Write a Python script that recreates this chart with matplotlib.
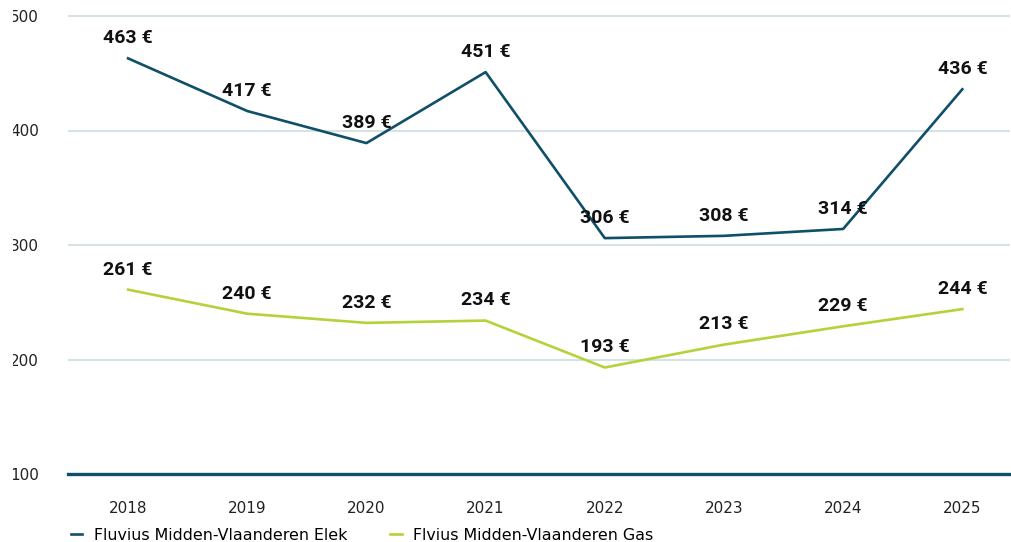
import matplotlib
matplotlib.use("Agg")
import matplotlib.pyplot as plt
from matplotlib.transforms import Bbox

# ── data ───────────────────────────────
years = ["2018", "2019", "2020", "2021", "2022", "2023", "2024", "2025"]
elek = [463, 417, 389, 451, 306, 308, 314, 436]
gas = [261, 240, 232, 234, 193, 213, 229, 244]
y_ticks = [100, 200, 300, 400, 500]
series_names = ["Fluvius Midden-Vlaanderen Elek", "Flvius Midden-Vlaanderen Gas"]

ELEK_COLOR = "#0f4f68"
GAS_COLOR = "#b4d23a"
GRID_COLOR = "#d5e3e7"
TICK_FONT = ["Liberation Sans Narrow", "DejaVu Sans"]

W, H = 1011, 542
fig = plt.figure(figsize=(W / 100, H / 100), dpi=100)

# axes placed in pixel coords: left 68, right 1010, y=100 at 474, scale 1.145 px/unit
left, right, y0 = 68, 1010, 474
ymax = 505
top = y0 - (ymax - 100) * 1.145
ax = fig.add_axes([left / W, (H - y0) / H, (right - left) / W, (y0 - top) / H])

x = list(range(len(years)))
ax.plot(x, elek, color=ELEK_COLOR, lw=1.9, solid_joinstyle="round",
        label=series_names[0], zorder=3)
ax.plot(x, gas, color=GAS_COLOR, lw=1.9, solid_joinstyle="round",
        label=series_names[1], zorder=3)

for vals in (elek, gas):
    for xi, v in zip(x, vals):
        ax.annotate(f"{v} €", (xi, v), xytext=(0, 14.5), textcoords="offset points",
                    ha="center", va="center", fontsize=14, fontweight="semibold",
                    family=["Roboto", "DejaVu Sans"], color="#111111", zorder=4)

ax.set_xlim(-0.504, 7.4)
ax.set_ylim(100, ymax)
ax.set_xticks(x, years)
ax.set_yticks(y_ticks)
ax.grid(axis="y", color=GRID_COLOR, lw=1.5, zorder=0)
ax.set_axisbelow(True)

for s in ("top", "right", "left"):
    ax.spines[s].set_visible(False)
ax.spines["bottom"].set_color(ELEK_COLOR)
ax.spines["bottom"].set_linewidth(2.4)
ax.spines["bottom"].set_zorder(5)

ax.tick_params(axis="both", length=0, labelsize=11, labelcolor="#222222")
ax.tick_params(axis="y", pad=21)
ax.tick_params(axis="x", pad=19.5)
for lab in ax.get_xticklabels() + ax.get_yticklabels():
    lab.set_family(TICK_FONT)

# the y labels in the reference are cut off at the left
clip = Bbox.from_extents(13, 0, W, H)
for lab in ax.get_yticklabels():
    lab.set_clip_box(clip)
    lab.set_clip_on(True)

fig.legend(loc="lower left", bbox_to_anchor=(57 / W, -15 / H), ncol=2, frameon=False,
           handlelength=0.7, handletextpad=0.75, columnspacing=2.7,
           prop={"family": TICK_FONT, "size": 11.4})

fig.savefig("out.png", dpi=100)
